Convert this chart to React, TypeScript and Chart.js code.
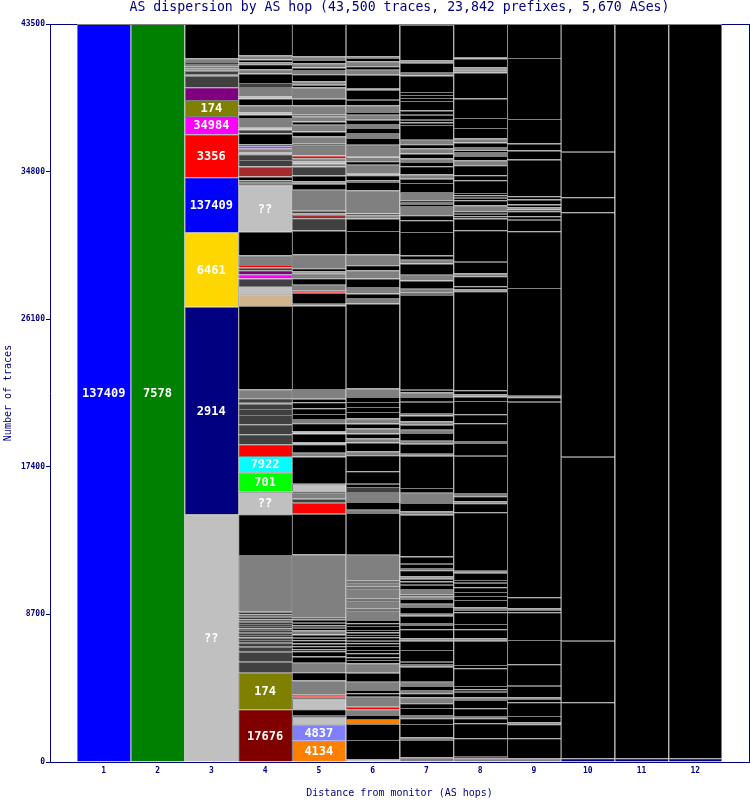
import React, { useEffect, useRef } from 'react';
import { Chart, registerables } from 'chart.js';

Chart.register(...registerables);

// ---------- text ----------
const TITLE = 'AS dispersion by AS hop (43,500 traces, 23,842 prefixes, 5,670 ASes)';
const X_TITLE = 'Distance from monitor (AS hops)';
const Y_TITLE = 'Number of traces';

// ---------- axes ----------
const hopCategories = ['1', '2', '3', '4', '5', '6', '7', '8', '9', '10', '11', '12'];
const yTickValues = [0, 8700, 17400, 26100, 34800, 43500];
const Y_MAX = 43500;

// ---------- segments per hop (bottom -> top), values in traces ----------
// colour codes: k black, g grey, d dark grey, l light grey, B blue, G green, N navy,
// Y gold, R red, M magenta, O olive, P purple, W maroon, b brown, C cyan, L lime,
// T tan, o orange, S slate blue
const hop1Values = [43500];
const hop1Colors = 'B';
const hop1Labels: Record<number, string> = { 0: '137409' };

const hop2Values = [43500];
const hop2Colors = 'G';
const hop2Labels: Record<number, string> = { 0: '7578' };

const hop3Values = [
  14598, 12240, 4381, 3242, 2535,
  1080, 943, 747, 688, 100,
  195, 141, 94, 159, 118,
  218, 2100,
];
const hop3Colors = 'lNYBR MOPdg dgdgd gk';
const hop3Labels: Record<number, string> = { 0: '??', 1: '2914', 2: '6461', 3: '137409', 4: '3356', 5: '34984', 6: '174' };

const hop4Values = [
  3106, 2157, 648, 589, 295,
  236, 157, 157, 138, 138,
  157, 98, 138, 118, 138,
  138, 157, 138, 157, 3342,
  2399, 1332, 1143, 961, 690,
  589, 589, 548, 354, 295,
  118, 218, 530, 4911, 690,
  489, 436, 253, 236, 159,
  153, 572, 1397, 2729, 147,
  147, 218, 589, 389, 336,
  195, 141, 118, 118, 648,
  236, 136, 554, 195, 118,
  436, 389, 118, 572, 236,
  548, 253, 295, 118, 159,
  236, 2100,
];
const hop4Colors = 'WOddd ddddd ddddd ddddg klLCR ddddd TdgkT ldMPd Rgklg dkbdd lgPBk dlgkl gklgd kgkgk gk';
const hop4Labels: Record<number, string> = { 0: '17676', 1: '174', 21: '??', 22: '701', 23: '7922', 43: '??' };

const hop5Values = [
  1255, 967, 448, 100, 336,
  589, 153, 118, 212, 630,
  489, 554, 371, 312, 98,
  197, 157, 197, 138, 197,
  236, 157, 138, 157, 197,
  98, 3731, 2399, 648, 236,
  354, 94, 436, 1609, 218,
  507, 118, 507, 118, 495,
  253, 295, 336, 354, 195,
  589, 4911, 100, 648, 118,
  354, 395, 130, 130, 134,
  195, 825, 1397, 725, 195,
  100, 136, 1238, 354, 141,
  354, 530, 153, 141, 195,
  159, 625, 100, 395, 295,
  389, 200, 295, 94, 554,
  389, 672, 153, 200, 430,
  253, 141, 253, 195, 200,
  2100,
];
const hop5Colors = 'oSlkk lgRgg kgkkk kkkkk gkkkk kgkRd gklkg klklk gkkkk gkgkR gkggg kgkdb gdgkg kdglg Rgkgk gkgkg kgkgk gkgkg k';
const hop5Labels: Record<number, string> = { 0: '4134', 1: '4837' };

const hop6Values = [
  159, 1137, 943, 295, 236,
  336, 153, 589, 200, 195,
  489, 530, 554, 197, 157,
  236, 197, 236, 157, 157,
  197, 138, 138, 157, 236,
  157, 197, 548, 118, 472,
  118, 589, 118, 236, 118,
  1532, 2458, 195, 454, 589,
  295, 195, 725, 943, 236,
  513, 236, 295, 295, 295,
  295, 395, 295, 295, 295,
  489, 5010, 336, 253, 395,
  489, 489, 295, 631, 1397,
  725, 195, 100, 1373, 495,
  94, 295, 118, 507, 200,
  195, 100, 684, 395, 295,
  295, 236, 253, 295, 159,
  395, 330, 589, 100, 784,
  295, 200, 295, 195, 100,
  2100,
];
const hop6Colors = 'lkkok gRgkk gkgkk kkkkk kkkkk kkgkg kgkgk gkgkg dkkkg kgkgk gkkkk gkgkg kgkgk kgkgk gklgk glgkg kgkgk gkkgk gkgkg k';
const hop6Labels: Record<number, string> = {};

const hop7Values = [
  277, 1020, 159, 784, 336,
  195, 413, 277, 354, 236,
  195, 236, 253, 884, 159,
  136, 690, 548, 141, 530,
  253, 118, 430, 118, 395,
  195, 277, 153, 100, 336,
  253, 195, 159, 136, 354,
  141, 253, 430, 2458, 195,
  495, 607, 277, 1904, 118,
  589, 177, 453, 195, 295,
  195, 354, 141, 666, 277,
  271, 159, 5600, 118, 236,
  489, 336, 666, 218, 253,
  1375, 690, 295, 548, 118,
  118, 100, 489, 530, 259,
  253, 472, 253, 218, 295,
  295, 236, 277, 860, 159,
  159, 295, 253, 548, 177,
  177, 177, 984, 195, 548,
  141, 2100,
];
const hop7Colors = 'gkgkk gkkgk gkgkg kkkgk kgkgk gkgkg kkkgk gkkkg kgkkg kgkgk gkgkk gkkkg kgkgk kkkgk gkgkk gkkgk gkgkk kkkkk kkkgk gk';
const hop7Labels: Record<number, string> = {};

const hop8Values = [
  218, 94, 1085, 884, 295,
  136, 454, 489, 159, 330,
  141, 195, 1043, 195, 1432,
  141, 530, 312, 690, 136,
  159, 430, 236, 236, 277,
  271, 159, 430, 118, 3442,
  530, 118, 295, 200, 2198,
  749, 118, 1043, 530, 784,
  259, 118, 253, 5835, 100,
  195, 589, 159, 690, 1862,
  690, 143, 143, 143, 354,
  295, 145, 145, 145, 743,
  295, 589, 295, 259, 236,
  94, 200, 253, 236, 630,
  590, 1140, 1532, 136, 59,
  100, 530, 100, 2100,
];
const hop8Colors = 'gkkkk gkkgk kkkkk gkkkk gkkkk kkkgk kgkgk kgkkk kgkkg kkgkk kkkkg kkkkk kkgkg kgkgk kkkgk gkgk';
const hop8Labels: Record<number, string> = {};

const hop9Values = [
  218, 1179, 825, 118, 371,
  808, 195, 100, 684, 1261,
  1432, 1633, 136, 100, 648,
  11528, 259, 100, 6348, 3336,
  690, 195, 295, 100, 136,
  159, 295, 195, 2163, 530,
  413, 1456, 3595, 2100,
];
const hop9Colors = 'gkkgk kkgkk kkkgk kkgkk kkkkg kkkkk kkkk';
const hop9Labels: Record<number, string> = {};

const hop10Values = [218, 3300, 3631, 10845, 14405, 884, 2688, 7600];
const hop10Colors = 'Nkkkk kkk';
const hop10Labels: Record<number, string> = {};

const hop11Values = [218, 43400];
const hop11Colors = 'Nk';
const hop11Labels: Record<number, string> = {};

const hop12Values = [218, 43400];
const hop12Colors = 'Nk';
const hop12Labels: Record<number, string> = {};

// ---------- styles ----------
const NAVY = '#000080';
const EDGE = '#808080';
const MONO = '"DejaVu Sans Mono", "Liberation Mono", monospace';
const palette: Record<string, string> = {
  k: '#000000', g: '#808080', d: '#404040', l: '#C0C0C0',
  B: '#0000FF', G: '#008000', N: '#000080', Y: '#FFD700',
  R: '#FF0000', M: '#FF00FF', O: '#808000', P: '#800080',
  W: '#800000', b: '#A52A2A', C: '#00FFFF', L: '#00FF00',
  T: '#D2B48C', o: '#FF8000', S: '#8080FF',
};

const hops = [
  { values: hop1Values, colors: hop1Colors, labels: hop1Labels },
  { values: hop2Values, colors: hop2Colors, labels: hop2Labels },
  { values: hop3Values, colors: hop3Colors, labels: hop3Labels },
  { values: hop4Values, colors: hop4Colors, labels: hop4Labels },
  { values: hop5Values, colors: hop5Colors, labels: hop5Labels },
  { values: hop6Values, colors: hop6Colors, labels: hop6Labels },
  { values: hop7Values, colors: hop7Colors, labels: hop7Labels },
  { values: hop8Values, colors: hop8Colors, labels: hop8Labels },
  { values: hop9Values, colors: hop9Colors, labels: hop9Labels },
  { values: hop10Values, colors: hop10Colors, labels: hop10Labels },
  { values: hop11Values, colors: hop11Colors, labels: hop11Labels },
  { values: hop12Values, colors: hop12Colors, labels: hop12Labels },
];

export default function App() {
  const canvasRef = useRef<HTMLCanvasElement | null>(null);

  useEffect(() => {
    document.body.style.margin = '0';
    const canvas = canvasRef.current;
    if (!canvas) return;

    const columns = hops.map((h) => ({
      values: h.values,
      colors: h.colors.replace(/\s+/g, '').split(''),
      labels: h.labels,
    }));
    const layerCount = Math.max(...columns.map((c) => c.values.length));
    const lastIndex = hopCategories.length; // index of hop 12 in padded labels
    const xLabels = ['', ...hopCategories, ''];

    const datasets: any[] = [];
    for (let k = 0; k < layerCount; k++) {
      datasets.push({
        data: [null, ...columns.map((c) => (k < c.values.length ? c.values[k] : null)), null],
        backgroundColor: ['#000', ...columns.map((c) => palette[c.colors[k]] || '#000'), '#000'],
        borderColor: EDGE,
        borderWidth: (ctx: any) =>
          ctx.dataIndex === lastIndex
            ? { top: 1, left: 1, right: 1, bottom: 0 }
            : { top: 1, left: 1, right: 0, bottom: 0 },
        borderSkipped: false,
        inflateAmount: 0,
        categoryPercentage: 1,
        barPercentage: 1,
        stack: 'hops',
        clip: 0,
      });
    }

    const framePlugin = {
      id: 'frameAndLabels',
      afterDatasetsDraw(chart: any) {
        const { ctx, chartArea } = chart;
        const { left, right, top, bottom } = chartArea;
        ctx.save();
        // frame
        ctx.fillStyle = NAVY;
        ctx.fillRect(left, top, right - left + 1, 1);
        ctx.fillRect(right, top, 1, bottom - top);
        // grey top edge over the bars
        const m1 = chart.getDatasetMeta(0).data[1];
        const m12 = chart.getDatasetMeta(0).data[lastIndex];
        if (m1 && m12) {
          const x0 = m1.x - m1.width / 2;
          const x1 = m12.x + m12.width / 2;
          ctx.fillStyle = EDGE;
          ctx.fillRect(Math.round(x0), top, Math.round(x1 - x0), 1);
        }
        // segment labels
        ctx.fillStyle = '#FFFFFF';
        ctx.font = `bold 12px ${MONO}`;
        ctx.textAlign = 'center';
        ctx.textBaseline = 'middle';
        columns.forEach((col, ci) => {
          Object.keys(col.labels).forEach((key) => {
            const k = Number(key);
            const el = chart.getDatasetMeta(k).data[ci + 1];
            if (!el) return;
            const p = el.getProps(['x', 'y', 'base'], true);
            const yTop = Math.max(p.y, top);
            ctx.fillText(col.labels[k], p.x, (yTop + p.base) / 2 + 1);
          });
        });
        ctx.restore();
      },
      afterDraw(chart: any) {
        const { ctx, chartArea } = chart;
        const cx = (chartArea.left + chartArea.right) / 2;
        ctx.save();
        ctx.fillStyle = NAVY;
        ctx.textAlign = 'center';
        ctx.textBaseline = 'middle';
        ctx.font = `13.2px ${MONO}`;
        ctx.fillText(TITLE, cx, 8);
        ctx.font = `10px ${MONO}`;
        ctx.fillText(X_TITLE, cx, 793);
        ctx.translate(8, (chartArea.top + chartArea.bottom) / 2);
        ctx.rotate(-Math.PI / 2);
        ctx.fillText(Y_TITLE, 0, 0);
        ctx.restore();
      },
    };

    const chart = new Chart(canvas, {
      type: 'bar',
      data: { labels: xLabels, datasets },
      options: {
        responsive: false,
        animation: false,
        devicePixelRatio: 1,
        events: [],
        layout: { padding: { top: 24, right: 1, left: 0, bottom: 0 } },
        plugins: { legend: { display: false }, tooltip: { enabled: false }, title: { display: false } },
        scales: {
          x: {
            type: 'category',
            stacked: true,
            offset: false,
            grid: { display: false, drawTicks: false },
            border: { display: true, color: NAVY, width: 1 },
            ticks: { color: NAVY, font: { family: MONO, size: 8, weight: 'bold' }, padding: 4, autoSkip: false, maxRotation: 0 },
            afterFit: (s: any) => {
              s.height = 38;
              s.paddingLeft = 0;
              s.paddingRight = 0;
            },
          },
          y: {
            stacked: true,
            min: 0,
            max: Y_MAX,
            grid: { display: true, drawOnChartArea: false, drawTicks: true, tickLength: 4, color: NAVY },
            border: { display: true, color: NAVY, width: 1 },
            ticks: { color: NAVY, font: { family: MONO, size: 8, weight: 'bold' }, padding: 1, callback: (v: any) => String(v) },
            afterBuildTicks: (s: any) => { s.ticks = yTickValues.map((v) => ({ value: v })); },
            afterFit: (s: any) => { s.width = 50; },
          },
        },
      } as any,
      plugins: [framePlugin],
    });

    return () => chart.destroy();
  }, []);

  return (
    <div style={{ width: 750, height: 800, background: '#FFFFFF' }}>
      <canvas ref={canvasRef} width={750} height={800} style={{ display: 'block' }} />
    </div>
  );
}
